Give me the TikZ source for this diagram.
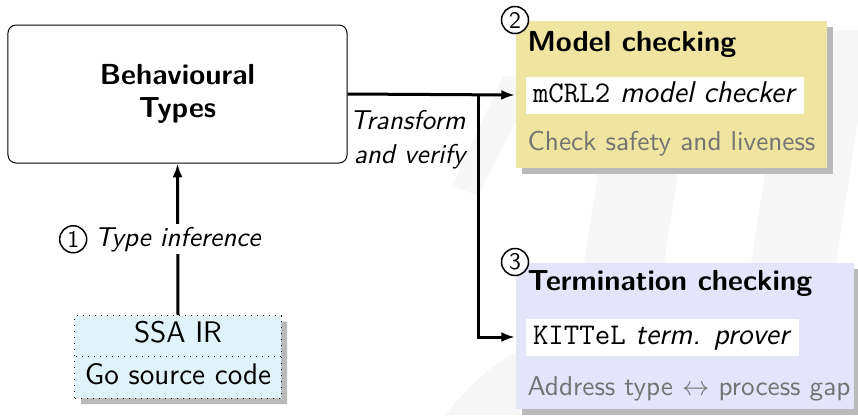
\documentclass[tikz,border=0pt]{standalone}
\usetikzlibrary{shapes.multipart,shadows,arrows.meta,positioning}
\renewcommand{\familydefault}{\sfdefault}
\definecolor{mcyellow}{RGB}{240,229,160}
\definecolor{tclilac}{RGB}{228,228,251}
\definecolor{ssablue}{RGB}{224,242,250}
\definecolor{wmgray}{RGB}{247,247,247}
\begin{document}
\begin{tikzpicture}[x=0.4pt,y=0.4pt,
  every node/.style={font=\fontsize{11.6}{13.6}\selectfont},
  flow/.style={line width=1.2pt,-{Latex[length=5.5pt,width=4pt]}},
  card/.style={anchor=north west,inner sep=0pt,
    drop shadow={shadow xshift=2.6pt,shadow yshift=-2.6pt,fill=black!27,opacity=1}},
  heading/.style={anchor=west,inner sep=0pt,font=\fontsize{11.6}{13.6}\selectfont\bfseries},
  tool/.style={anchor=west,fill=white,inner xsep=3pt,inner ysep=1.6pt,text height=8.6pt,text depth=3pt,
    font=\fontsize{12}{13.6}\selectfont},
  note/.style={anchor=west,inner sep=0pt,text=black!55,font=\fontsize{10.9}{13.6}\selectfont},
  remark/.style={font=\fontsize{10.9}{13.6}\selectfont\itshape},
  stepnum/.style={circle,draw,fill=white,line width=0.6pt,inner sep=0pt,minimum size=10.8pt,
    font=\fontsize{9.5}{9.5}\selectfont}]
\useasboundingbox (0,0) rectangle (858,-415);
% faint slide watermark
\fill[wmgray] (563,-400) -- (643,-400) -- (700,-30) -- (620,-30) -- cycle;
\fill[wmgray] (730,-400) -- (815,-400) -- (872,-30) -- (787,-30) -- cycle;
\fill[wmgray] (452,-186) -- (503,-76) -- (540,-76) -- (478,-195) -- cycle;
\fill[wmgray] (445,-415) .. controls (470,-385) and (490,-365) .. (520,-350) -- (520,-415) -- cycle;

\node[draw,rounded corners=3.2pt,minimum width=135.6pt,minimum height=55.2pt,align=center,
  font=\fontsize{11.6}{13.2}\selectfont\bfseries] (bt) at (177.5,-94) {Behavioural\\Types};

\node[rectangle split,rectangle split parts=2,draw,dotted,fill=ssablue,minimum width=82.4pt,
  inner ysep=1.25pt,anchor=north,font=\fontsize{11.9}{13.6}\selectfont,
  drop shadow={shadow xshift=2.4pt,shadow yshift=-2.4pt,fill=black!27,opacity=1}]
  (ssa) at (178,-315) {\strut SSA IR\nodepart{two}\strut Go source code};

\draw[flow] (ssa.north) -- node[remark,fill=white,inner sep=1pt] (infer) {Type inference} (bt.south);
\node[stepnum,left=1.4pt of infer] (one) {1};

% model checking
\node[card,fill=mcyellow,minimum width=124.4pt,minimum height=58.8pt] (mc) at (515,-20) {};
\node[heading] (mctitle) at ([shift={(12,-24)}]mc.north west) {Model checking};
\node[tool] (mctool) at ([shift={(10,-75)}]mc.north west) {\texttt{mCRL2} \textit{model checker}};
\node[note] (mcnote) at ([shift={(12,-124)}]mc.north west) {Check safety and liveness};
\node[stepnum] (two) at (mc.north west) {2};

% termination checking
\node[card,fill=tclilac,minimum width=135.2pt,minimum height=58.4pt] (tc) at (515,-262) {};
\node[heading] (tctitle) at ([shift={(12,-21)}]tc.north west) {Termination checking};
\node[tool] (tctool) at ([shift={(10,-75)}]tc.north west) {\texttt{KITTeL} \textit{term. prover}};
\node[note] (tcnote) at ([shift={(12,-127)}]tc.north west) {Address type $\leftrightarrow$ process gap};
\node[stepnum] (three) at (tc.north west) {3};

\coordinate (split) at (478,-94);
\draw[flow] (bt.east) -- (mc.west |- mctool.west);
\draw[flow] (split) |- (tc.west |- tctool.west);
\node[remark,anchor=north east,align=right,inner sep=0pt] (verify) at (466,-110) {Transform\\and verify};
\end{tikzpicture}
\end{document}
